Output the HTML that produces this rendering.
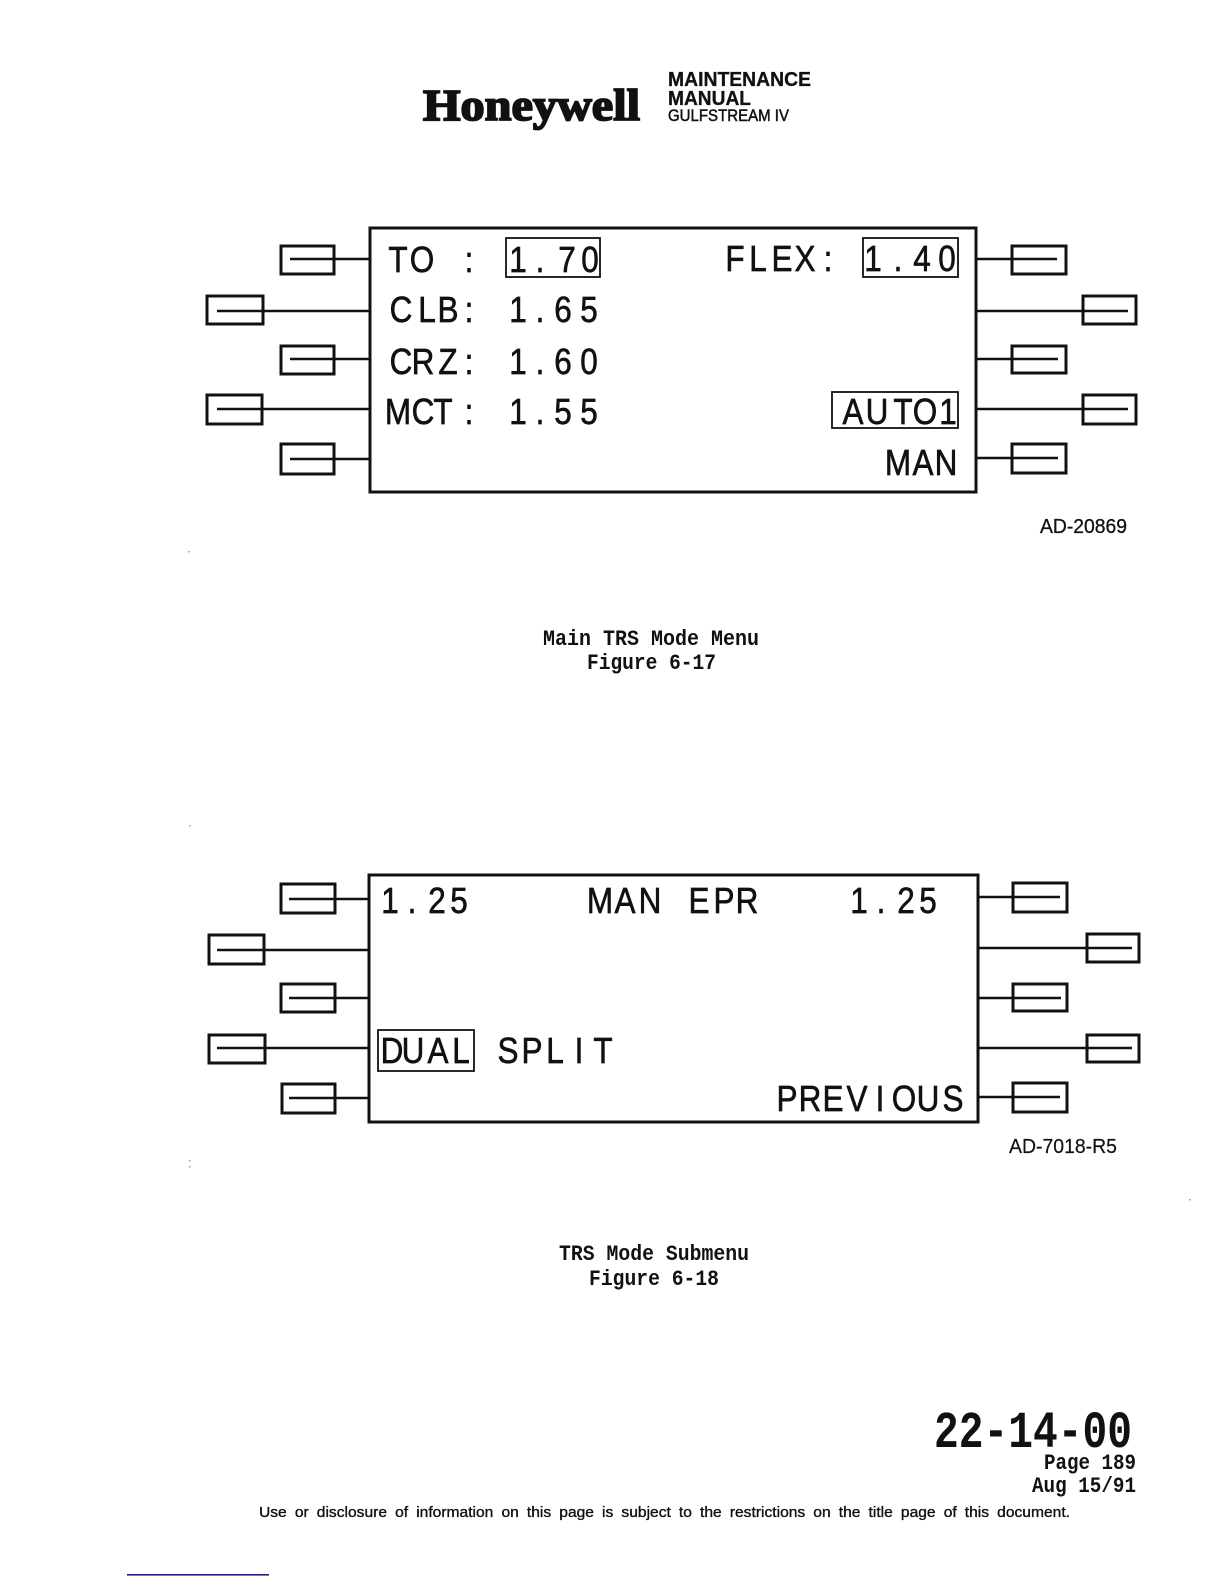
<!DOCTYPE html>
<html><head><meta charset="utf-8"><style>
html,body{margin:0;padding:0;background:#fff}
svg{display:block}
text{font-family:"Liberation Sans",sans-serif;fill:#111}
.d{font-size:31.5px;text-anchor:middle;stroke:#111;stroke-width:.55}
.m{font-family:"Liberation Mono",monospace;font-size:22px;font-weight:bold}
.b{fill:none;stroke:#111;stroke-width:3}
.l{fill:none;stroke:#111;stroke-width:2.6}
.h{fill:none;stroke:#111;stroke-width:1.8}
</style></head><body>
<svg xmlns="http://www.w3.org/2000/svg" width="1224" height="1584" viewBox="0 0 1224 1584">
<rect width="1224" height="1584" fill="#fff"/>

<!-- Header -->
<text x="423" y="120" font-size="44" textLength="217" lengthAdjust="spacingAndGlyphs" style="font-family:'Liberation Serif',serif;font-weight:bold;stroke:#111;stroke-width:1.8">Honeywell</text>
<text x="668" y="86" font-size="20" font-weight="bold" textLength="143" lengthAdjust="spacingAndGlyphs" style="stroke:#111;stroke-width:.3">MAINTENANCE</text>
<text x="668" y="105" font-size="20" font-weight="bold" textLength="83" lengthAdjust="spacingAndGlyphs" style="stroke:#111;stroke-width:.3">MANUAL</text>
<text x="668" y="121" font-size="16.5" textLength="121" lengthAdjust="spacingAndGlyphs" style="stroke:#111;stroke-width:.5">GULFSTREAM IV</text>

<!-- Figure 6-17 -->
<rect x="370" y="228" width="606" height="264" fill="none" stroke="#111" stroke-width="3"/>
<rect class="b" x="281" y="246" width="53" height="28"/><rect class="b" x="207" y="296" width="56" height="28"/><rect class="b" x="281" y="346" width="53" height="28"/><rect class="b" x="207" y="395" width="55" height="29"/><rect class="b" x="281" y="444" width="53" height="30"/>
<rect class="b" x="1012" y="246" width="54" height="28"/><rect class="b" x="1083" y="296" width="53" height="28"/><rect class="b" x="1012" y="346" width="54" height="27"/><rect class="b" x="1083" y="395" width="53" height="29"/><rect class="b" x="1012" y="444" width="54" height="29"/>
<path class="l" d="M290 259H370M217 311H370M290 359H370M217 409H370M290 459H370M976 259H1057M976 311H1128M976 359H1058M976 409H1128M976 458H1058"/>
<rect class="h" x="506" y="238" width="94" height="39"/>
<rect class="h" x="863" y="238" width="95" height="39"/>
<rect class="h" x="832" y="392" width="126" height="36"/>

<g transform="translate(0,272) scale(1,1.145)"><text class="d" x="398 422 469 518 540 567 590" y="0">TO:1.70</text></g>
<g transform="translate(0,322) scale(1,1.145)"><text class="d" x="401 427 448 469 518 540 563 589" y="0">CLB:1.65</text></g>
<g transform="translate(0,374) scale(1,1.145)"><text class="d" x="401 423 448 469 518 540 563 589" y="0">CRZ:1.60</text></g>
<g transform="translate(0,424) scale(1,1.145)"><text class="d" x="398 423 443 469 518 540 563 589" y="0">MCT:1.55</text></g>
<g transform="translate(0,271) scale(1,1.145)"><text class="d" x="735 758 782 805 828 873 898 922 947" y="0">FLEX:1.40</text></g>
<g transform="translate(0,424) scale(1,1.145)"><text class="d" x="853 877 903 925 948" y="0">AUTO1</text></g>
<g transform="translate(0,475) scale(1,1.145)"><text class="d" x="898 923 946" y="0">MAN</text></g>

<text x="1040" y="533" font-size="20" textLength="87" lengthAdjust="spacingAndGlyphs" style="stroke:#111;stroke-width:.3">AD-20869</text>
<text class="m" x="543" y="645" textLength="216" lengthAdjust="spacingAndGlyphs">Main TRS Mode Menu</text>
<text class="m" x="587" y="669" textLength="129" lengthAdjust="spacingAndGlyphs">Figure 6-17</text>

<!-- Figure 6-18 -->
<rect x="369" y="875" width="609" height="247" fill="none" stroke="#111" stroke-width="3"/>
<rect class="b" x="281" y="884" width="54" height="29"/><rect class="b" x="209" y="935" width="55" height="29"/><rect class="b" x="281" y="984" width="54" height="28"/><rect class="b" x="209" y="1035" width="56" height="28"/><rect class="b" x="282" y="1084" width="53" height="29"/>
<rect class="b" x="1013" y="883" width="54" height="29"/><rect class="b" x="1087" y="934" width="52" height="28"/><rect class="b" x="1013" y="984" width="54" height="27"/><rect class="b" x="1087" y="1035" width="52" height="27"/><rect class="b" x="1013" y="1083" width="54" height="29"/>
<path class="l" d="M289 899H369M217 950H369M289 998H369M217 1048H369M289 1098H369M978 897H1060M978 948H1132M978 998H1061M978 1048H1132M978 1097H1060"/>
<rect class="h" x="378" y="1030" width="96" height="41"/>

<g transform="translate(0,913) scale(1,1.145)"><text class="d" x="390 412 437 459 600 625 650 699 724 747 859 881 906 928" y="0">1.25MANEPR1.25</text></g>
<g transform="translate(0,1063) scale(1,1.145)"><text class="d" x="392 413 438 461 508 532 555 579 603" y="0">DUALSPLIT</text></g>
<g transform="translate(0,1111) scale(1,1.145)"><text class="d" x="787 810 833 857 880 904 928 953" y="0">PREVIOUS</text></g>

<text x="1009" y="1153" font-size="20" textLength="108" lengthAdjust="spacingAndGlyphs" style="stroke:#111;stroke-width:.2">AD-7018-R5</text>
<text class="m" x="559" y="1260" textLength="190" lengthAdjust="spacingAndGlyphs">TRS Mode Submenu</text>
<text class="m" x="589" y="1285" textLength="130" lengthAdjust="spacingAndGlyphs">Figure 6-18</text>

<!-- Footer -->
<text x="934" y="1447" font-size="52" font-weight="bold" textLength="198" lengthAdjust="spacingAndGlyphs" style="font-family:'Liberation Mono',monospace">22-14-00</text>
<text class="m" x="1044" y="1469" textLength="92" lengthAdjust="spacingAndGlyphs">Page 189</text>
<text class="m" x="1032" y="1492" textLength="104" lengthAdjust="spacingAndGlyphs">Aug 15/91</text>
<text x="259" y="1517" font-size="14.5" word-spacing="3.5" textLength="811" lengthAdjust="spacingAndGlyphs" style="stroke:#111;stroke-width:.35">Use or disclosure of information on this page is subject to the restrictions on the title page of this document.</text>
<rect x="127" y="1574" width="142" height="1.6" fill="#1c1c96"/>

<!-- Specks -->
<g fill="#999"><rect x="188" y="551" width="1.5" height="1.5"/><rect x="189" y="825" width="1.5" height="1.5"/><rect x="189" y="1160" width="1.5" height="1.5"/><rect x="189" y="1166" width="1.5" height="1.5"/><rect x="1189" y="1199" width="1.5" height="1.5"/></g>
</svg>
</body></html>
